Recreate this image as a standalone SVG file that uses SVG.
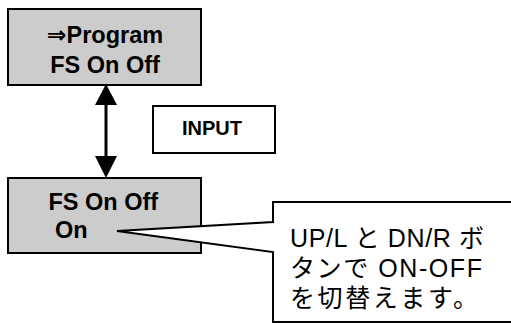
<svg xmlns="http://www.w3.org/2000/svg" width="511" height="323" viewBox="0 0 511 323">
<style>
.box{fill:#cccccc;stroke:#000;stroke-width:2}
.wbox{fill:#fff;stroke:#000;stroke-width:2}
.b{font-family:"Liberation Sans","DejaVu Sans",sans-serif;font-weight:bold;fill:#000}
.j{font-family:"Liberation Sans","Noto Sans CJK JP",sans-serif;font-size:25px;fill:#000}
</style>
<rect width="511" height="323" fill="#fff"/>
<g id="node-program">
<rect class="box" x="8" y="9" width="193" height="76"/>
<text class="b" x="105" y="43" font-size="23.5" text-anchor="middle">⇒Program</text>
<text class="b" x="105" y="73" font-size="23.5" text-anchor="middle">FS On Off</text>
</g>
<g id="node-input">
<rect class="wbox" x="153" y="106" width="122" height="47"/>
<text class="b" x="212" y="135" font-size="20" text-anchor="middle">INPUT</text>
</g>
<g id="node-fs">
<rect class="box" x="8" y="178" width="193" height="75"/>
<text class="b" x="48.5" y="210" font-size="23.5">FS On Off</text>
<text class="b" x="55" y="238" font-size="23.5">On</text>
</g>
<g id="connectors">
<line x1="106" y1="100" x2="106" y2="160" stroke="#000" stroke-width="3"/>
<polygon points="106,84 95,105 117,105" fill="#000"/>
<polygon points="106,178 95,156 117,156" fill="#000"/>
</g>
<g id="callout">
<polygon class="wbox" points="273,202 513,202 513,322 273,322 273,252 117,231 273,222"/>
<text class="j" x="290" y="247" textLength="194" lengthAdjust="spacing">UP/L と DN/R ボ</text>
<text class="j" x="290" y="277" textLength="192" lengthAdjust="spacing">タンで ON-OFF</text>
<text class="j" x="290" y="307" textLength="188" lengthAdjust="spacing">を切替えます。</text>
</g>
</svg>
